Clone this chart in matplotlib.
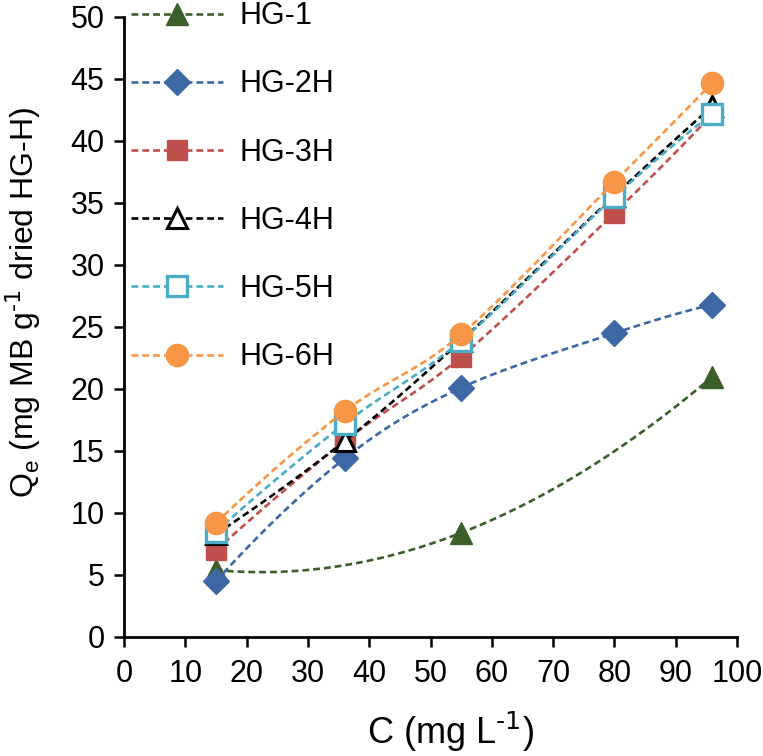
import matplotlib.pyplot as plt
import numpy as np

plt.rcParams['font.family'] = ['Liberation Sans', 'DejaVu Sans']

# data
c_hg1 = [15, 55, 96]
q_hg1 = [5.4, 8.4, 21.0]
c_all = [15, 36, 55, 80, 96]
q_hg2 = [4.5, 14.4, 20.1, 24.5, 26.8]
q_hg3 = [7.0, 15.8, 22.6, 34.2, 42.2]
q_hg4 = [8.3, 15.8, 23.9, 35.6, 42.8]
q_hg5 = [8.5, 17.2, 23.9, 35.5, 42.2]
q_hg6 = [9.2, 18.2, 24.4, 36.7, 44.7]
labels = ["HG-1", "HG-2H", "HG-3H", "HG-4H", "HG-5H", "HG-6H"]


def smooth(x, y, n=30):
    # Excel-like smoothed line: cubic bezier between points, Catmull-Rom tangents
    P = np.column_stack([x, y]).astype(float)
    k = len(P)
    m = np.zeros_like(P)
    m[1:-1] = (P[2:] - P[:-2]) / 2
    if k > 2:
        m[0] = 2 * (P[1] - P[0]) - m[1]
        m[-1] = 2 * (P[-1] - P[-2]) - m[-2]
    else:
        m[0] = m[-1] = P[1] - P[0]
    t = np.linspace(0, 1, n)[:, None]
    pts = []
    for i in range(k - 1):
        p0, p3 = P[i], P[i + 1]
        p1 = p0 + m[i] / 3
        p2 = p3 - m[i + 1] / 3
        b = (1 - t) ** 3 * p0 + 3 * (1 - t) ** 2 * t * p1 + 3 * (1 - t) * t ** 2 * p2 + t ** 3 * p3
        pts.append(b)
    pts = np.vstack(pts)
    return pts[:, 0], pts[:, 1]


fig = plt.figure(figsize=(7.63, 7.56), dpi=100)
ax = fig.add_axes([124 / 763, 1 - 637 / 756, (737 - 124) / 763, (637 - 17) / 756])

series = [
    (c_hg1, q_hg1, '#3B5E2B', dict(marker='^', mfc='#3B5E2B', mec='#3B5E2B', ms=16)),
    (c_all, q_hg2, '#3C68A3', dict(marker='D', mfc='#3C68A3', mec='#3C68A3', ms=13)),
    (c_all, q_hg3, '#C0504D', dict(marker='s', mfc='#C0504D', mec='#C0504D', ms=15)),
    (c_all, q_hg4, 'black', dict(marker='^', mfc='white', mec='black', mew=2.2, ms=14)),
    (c_all, q_hg5, '#4BACC6', dict(marker='s', mfc='white', mec='#4BACC6', mew=2.4, ms=14)),
    (c_all, q_hg6, '#F79646', dict(marker='o', mfc='#F79646', mec='#F79646', ms=16)),
]

handles = []
for (x, y, col, mk), lab in zip(series, labels):
    sx, sy = smooth(x, y)
    ax.plot(sx, sy, '--', color=col, lw=1.9, dashes=(2.6, 1.5))
    ax.plot(x, y, ls='none', **mk)
    h, = ax.plot([], [], '--', color=col, lw=1.9, dashes=(2.6, 1.5), **mk)
    handles.append(h)

ax.set_xlim(0, 100)
ax.set_ylim(0, 50)
ax.set_xticks(np.arange(0, 101, 10))
ax.set_yticks(np.arange(0, 51, 5))
ax.tick_params(labelsize=22, width=1.8, length=7, direction='out')
ax.tick_params(axis='x', pad=9)
ax.tick_params(axis='y', pad=7)
for s in ['top', 'right']:
    ax.spines[s].set_visible(False)
for s in ['left', 'bottom']:
    ax.spines[s].set_linewidth(2)

ax.set_xlabel("C (mg L$^{\\text{-1}}$)", fontsize=26)
ax.xaxis.set_label_coords(0.532, -0.118)
ax.set_ylabel("Q$_\\mathregular{e}$ (mg MB g$^{\\text{-1}}$ dried HG-H)", fontsize=23)
ax.yaxis.set_label_coords(-0.132, 0.54)

fig.legend(handles, labels, loc='upper left', bbox_to_anchor=(116 / 763, 1 + 14 / 756),
           frameon=False, fontsize=22, handlelength=3.0, handletextpad=0.55,
           labelspacing=1.25, borderpad=0, numpoints=1)

fig.savefig('out.png', dpi=100)
